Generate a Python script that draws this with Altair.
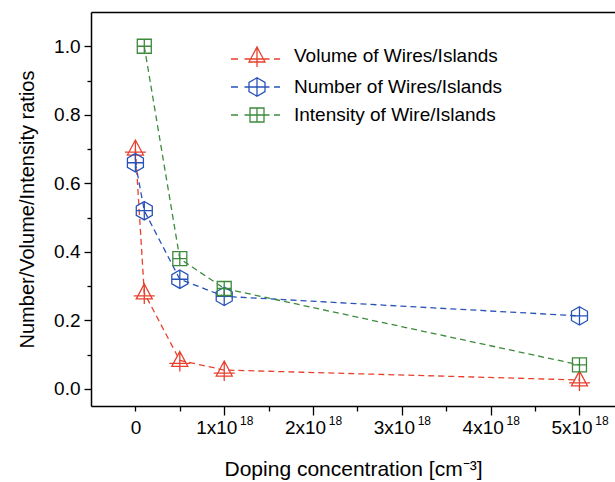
import altair as alt
import pandas as pd

# ---- data ----
series_names = ["Volume of Wires/Islands", "Number of Wires/Islands", "Intensity of Wire/Islands"]
series_colors = ["#e8402e", "#2952b8", "#3d8a3d"]

x_volume = [0, 0.1, 0.5, 1, 5]          # doping concentration in units of 1e18 cm^-3
y_volume = [0.70, 0.28, 0.083, 0.055, 0.026]

x_number = [0, 0.1, 0.5, 1, 5]
y_number = [0.66, 0.52, 0.32, 0.27, 0.213]

x_intensity = [0.1, 0.5, 1, 5]
y_intensity = [1.0, 0.38, 0.293, 0.07]

x_major_ticks = [1, 2, 3, 4, 5]
x_minor_ticks = [0, 0.5, 1.5, 2.5, 3.5, 4.5]
y_major_ticks = [0, 0.2, 0.4, 0.6, 0.8, 1.0]
y_minor_ticks = [0.1, 0.3, 0.5, 0.7, 0.9]

rows = []
for name, xs, ys in zip(series_names, [x_volume, x_number, x_intensity], [y_volume, y_number, y_intensity]):
    for xv, yv in zip(xs, ys):
        rows.append({"series": name, "x": xv, "y": yv})
df = pd.DataFrame(rows)

# ---- marker shapes (custom SVG paths, unit = sqrt(size)/2 px) ----
tri = "M0,-0.9L0.8,0.6L-0.8,0.6Z M-1.05,0.3L1.05,0.3 M0,-0.9L0,1.1"
hexa = "M0,-0.92L0.8,-0.46L0.8,0.46L0,0.92L-0.8,0.46L-0.8,-0.46Z M-0.8,0L0.8,0 M0,-0.92L0,0.92"
sq = "M-0.7,-0.7L0.7,-0.7L0.7,0.7L-0.7,0.7Z M-0.7,0L0.7,0 M0,-0.7L0,0.7"
marker_paths = [tri, hexa, sq]
marker_mid = [0.3, 0.0, 0.0]


def legend_path(p, y):
    return (p + f" M-2.6,{y}L-1.9,{y} M-1.25,{y}L1.25,{y} M1.7,{y}L2.3,{y}")


legend_paths = [legend_path(p, y) for p, y in zip(marker_paths, marker_mid)]

FONT = "Liberation Sans"
LABEL_SIZE = 19
xscale = alt.Scale(domain=[-0.5, 5.4], nice=False, zero=False)
yscale = alt.Scale(domain=[-0.05, 1.1], nice=False, zero=False)
cscale = alt.Scale(domain=series_names, range=series_colors)

common = dict(grid=False, labelFlush=False, labelOverlap=False, tickColor="black", tickWidth=1.3,
              labelFont=FONT, labelColor="black")

# main x axis: 1x10, 2x10 ... (long ticks)
x_axis_main = alt.Axis(
    orient="bottom", values=x_major_ticks, labelExpr="format(datum.value, 'd') + 'x10'",
    tickSize=9, labelFontSize=LABEL_SIZE, labelPadding=3, labelOffset=-8,
    domainColor="black", domainWidth=1.5,
    title="Doping concentration  [cm\u207b\u00b3]", titleFont=FONT, titleFontSize=21,
    titleFontWeight="normal", titleColor="black", titlePadding=21, **common,
)
# minor x ticks and the "0" label
x_axis_minor = alt.Axis(
    orient="bottom", values=x_minor_ticks, labelExpr="datum.value == 0 ? '0' : ''",
    tickSize=5, labelFontSize=LABEL_SIZE, labelPadding=7, domain=False, title=None, **common,
)
# superscript exponents
x_axis_sup = alt.Axis(
    orient="bottom", values=x_major_ticks, labelExpr="'18'", ticks=False, tickSize=0,
    labelFontSize=12, labelPadding=9, labelOffset=22, domain=False, title=None, **common,
)
y_axis_main = alt.Axis(
    orient="left", values=y_major_ticks, format=".1f", tickSize=7,
    labelFontSize=LABEL_SIZE, labelPadding=4, domainColor="black", domainWidth=1.5,
    title="Number/Volume/Intensity ratios", titleFont=FONT, titleFontSize=20,
    titleFontWeight="normal", titleColor="black", titlePadding=16, **common,
)
y_axis_minor = alt.Axis(
    orient="left", values=y_minor_ticks, labels=False, tickSize=4, domain=False, title=None, **common,
)
top_axis = alt.Axis(orient="top", labels=False, ticks=False, title=None, grid=False,
                    domainColor="black", domainWidth=1.5)

base = alt.Chart(df)

leg = alt.Legend(
    orient="none", legendX=155, legendY=33, title=None, padding=0,
    labelFont=FONT, labelFontSize=19, labelColor="black", labelOffset=26, labelLimit=0,
    symbolSize=400, symbolStrokeWidth=1.3, symbolOpacity=1, rowPadding=5,
)
# zero-size points: they draw nothing themselves, they only feed the legend (first layer so its legend wins)
legend_layer = base.mark_point(filled=False, size=0, strokeWidth=1.3, opacity=1).encode(
    x=alt.X("x:Q", scale=xscale, axis=top_axis),
    y=alt.Y("y:Q", scale=yscale, axis=None),
    color=alt.Color("series:N", scale=cscale, legend=leg),
    shape=alt.Shape("series:N", scale=alt.Scale(domain=series_names, range=legend_paths), legend=leg),
)

lines = base.mark_line(strokeDash=[6, 4], strokeWidth=1.3).encode(
    x=alt.X("x:Q", scale=xscale, axis=x_axis_main),
    y=alt.Y("y:Q", scale=yscale, axis=y_axis_main),
    color=alt.Color("series:N", scale=cscale),
    detail="series:N",
)

x_axes_for_points = [x_axis_minor, x_axis_sup, None]
y_axes_for_points = [y_axis_minor, None, None]
point_layers = []
for name, path, xa, ya in zip(series_names, marker_paths, x_axes_for_points, y_axes_for_points):
    point_layers.append(
        base.transform_filter(alt.datum.series == name)
        .mark_point(shape=path, size=400, filled=False, strokeWidth=1.3, opacity=1)
        .encode(
            x=alt.X("x:Q", scale=xscale, axis=xa),
            y=alt.Y("y:Q", scale=yscale, axis=ya),
            color=alt.Color("series:N", scale=cscale),
        )
    )

chart = alt.layer(legend_layer, lines, *point_layers).resolve_axis(x="independent", y="independent").properties(
    width=524, height=394,
    autosize=alt.AutoSizeParams(type="none"),
    padding={"left": 91, "top": 12, "right": 0, "bottom": 76},
).configure_view(stroke=None).configure(background="white")

chart.save("out.html", embed_options={"renderer": "svg", "actions": False})
